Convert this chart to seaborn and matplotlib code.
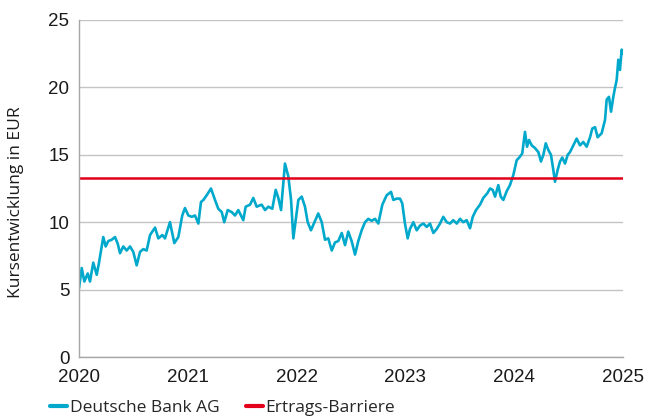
import numpy as np
import pandas as pd
import seaborn as sns
import matplotlib.pyplot as plt

# Kursverlauf (Jahr als Dezimalzahl)
jahr = [2020.000, 2020.025, 2020.049, 2020.080, 2020.101, 2020.131, 2020.163, 2020.184,
        2020.223, 2020.245, 2020.269, 2020.301, 2020.331, 2020.356, 2020.377, 2020.407,
        2020.438, 2020.469, 2020.499, 2020.530, 2020.561, 2020.591, 2020.622, 2020.653,
        2020.699, 2020.729, 2020.766, 2020.790, 2020.836, 2020.876, 2020.913, 2020.949,
        2020.974, 2021.005, 2021.036, 2021.066, 2021.097, 2021.121, 2021.143, 2021.174,
        2021.213, 2021.250, 2021.280, 2021.312, 2021.335, 2021.367, 2021.403, 2021.434,
        2021.464, 2021.510, 2021.532, 2021.572, 2021.602, 2021.633, 2021.679, 2021.710,
        2021.740, 2021.777, 2021.808, 2021.832, 2021.857, 2021.893, 2021.924, 2021.949,
        2021.970, 2021.992, 2022.016, 2022.047, 2022.077, 2022.102, 2022.132, 2022.169,
        2022.199, 2022.231, 2022.261, 2022.291, 2022.323, 2022.353, 2022.383, 2022.415,
        2022.445, 2022.475, 2022.506, 2022.537, 2022.567, 2022.598, 2022.629, 2022.659,
        2022.690, 2022.721, 2022.751, 2022.788, 2022.828, 2022.868, 2022.889, 2022.920,
        2022.950, 2022.971, 2022.996, 2023.021, 2023.042, 2023.073, 2023.104, 2023.134,
        2023.165, 2023.196, 2023.226, 2023.257, 2023.288, 2023.318, 2023.348, 2023.380,
        2023.410, 2023.440, 2023.472, 2023.502, 2023.532, 2023.563, 2023.594, 2023.619,
        2023.649, 2023.686, 2023.716, 2023.753, 2023.778, 2023.802, 2023.824, 2023.854,
        2023.876, 2023.900, 2023.931, 2023.961, 2023.992, 2024.023, 2024.047, 2024.074,
        2024.099, 2024.118, 2024.136, 2024.161, 2024.191, 2024.222, 2024.246, 2024.268,
        2024.290, 2024.314, 2024.338, 2024.359, 2024.375, 2024.400, 2024.421, 2024.442,
        2024.467, 2024.492, 2024.513, 2024.543, 2024.574, 2024.605, 2024.635, 2024.666,
        2024.697, 2024.718, 2024.743, 2024.767, 2024.804, 2024.835, 2024.850, 2024.871,
        2024.890, 2024.911, 2024.926, 2024.942, 2024.957, 2024.972, 2024.988, 2025.000]

kurs = [5.1, 6.6, 5.6, 6.2, 5.6, 7.0, 6.1, 7.0,
        8.9, 8.2, 8.6, 8.7, 8.9, 8.4, 7.7, 8.2,
        7.9, 8.2, 7.8, 6.8, 7.8, 8.0, 7.9, 9.05,
        9.6, 8.8, 9.05, 8.8, 10.0, 8.45, 8.9, 10.5,
        11.05, 10.5, 10.4, 10.5, 9.9, 11.5, 11.65, 12.0,
        12.5, 11.65, 11.0, 10.75, 10.0, 10.9, 10.75, 10.5,
        10.9, 10.15, 11.15, 11.3, 11.8, 11.15, 11.3, 10.9,
        11.15, 11.0, 12.4, 11.8, 10.9, 14.35, 13.4, 11.65,
        8.8, 10.15, 11.65, 11.9, 11.15, 10.0, 9.4, 10.1,
        10.65, 10.0, 8.7, 8.8, 7.9, 8.5, 8.6, 9.2,
        8.3, 9.3, 8.6, 7.6, 8.6, 9.4, 10.0, 10.25,
        10.1, 10.25, 9.9, 11.3, 12.0, 12.25, 11.65, 11.75,
        11.75, 11.4, 9.9, 8.8, 9.5, 10.0, 9.4, 9.75,
        9.9, 9.65, 9.9, 9.2, 9.5, 9.9, 10.4, 10.0,
        9.9, 10.15, 9.9, 10.25, 10.0, 10.15, 9.55, 10.4,
        10.9, 11.3, 11.8, 12.15, 12.5, 12.4, 11.9, 12.75,
        11.9, 11.65, 12.3, 12.75, 13.5, 14.6, 14.8, 15.1,
        16.7, 15.6, 16.1, 15.7, 15.5, 15.2, 14.5, 15.0,
        15.85, 15.35, 15.0, 13.9, 13.0, 13.9, 14.5, 14.8,
        14.35, 15.0, 15.2, 15.7, 16.2, 15.7, 15.95, 15.6,
        16.3, 16.95, 17.05, 16.3, 16.6, 17.6, 19.1, 19.3,
        18.2, 19.3, 19.95, 20.55, 22.05, 21.3, 22.8, 22.5]

barriere = 13.25
jahre_ticks = [2020, 2021, 2022, 2023, 2024, 2025]
y_ticks = [0, 5, 10, 15, 20, 25]

df = pd.DataFrame({'Jahr': jahr, 'Kurs': kurs})

sns.set_style("white")
plt.rcParams['font.family'] = ['Liberation Sans', 'DejaVu Sans']

fig = plt.figure(figsize=(6.57, 4.17), dpi=100)
ax = fig.add_axes([79/657, 1-357/417, 544/657, 337/417])

cyan = '#00a9cc'
rot = '#e3001b'

sns.lineplot(data=df, x='Jahr', y='Kurs', ax=ax, color=cyan, linewidth=1.9,
             label='Deutsche Bank AG', legend=False)
ax.axhline(barriere, color=rot, linewidth=1.8, label='Ertrags-Barriere')

ax.set_xlim(2020, 2025)
ax.set_ylim(0, 25)
ax.set_xticks(jahre_ticks)
ax.set_xticklabels([str(j) for j in jahre_ticks])
ax.set_yticks(y_ticks)
ax.yaxis.grid(True, color='#c4c4c4', linewidth=1.0)
ax.xaxis.grid(False)
ax.set_axisbelow(True)

for s in ['top', 'right']:
    ax.spines[s].set_visible(False)
for s in ['left', 'bottom']:
    ax.spines[s].set_color('#a6a6a6')
    ax.spines[s].set_linewidth(1.0)

ax.tick_params(axis='both', which='major', labelsize=13.5, colors='#a6a6a6',
               labelcolor='#1a1a1a', length=4, width=1.0, direction='out')
ax.tick_params(axis='x', pad=5)
ax.tick_params(axis='y', pad=3)
ax.set_xlabel('')
ax.set_ylabel('Kursentwicklung in EUR', fontsize=12.5, family=['Open Sans', 'DejaVu Sans'],
              color='#1a1a1a')
ax.yaxis.set_label_coords(-0.101, 0.46)

h, l = ax.get_legend_handles_labels()
fig.legend(h, l, loc='center left', bbox_to_anchor=(50/657, 1-408/417), ncol=2,
           frameon=False, handlelength=1.0, handletextpad=0.15, columnspacing=1.5,
           borderpad=0, borderaxespad=0,
           prop={'family': ['Open Sans', 'DejaVu Sans'], 'size': 12.5})
for line in fig.legends[0].get_lines():
    line.set_linewidth(3)

fig.savefig('out.png', dpi=100)
